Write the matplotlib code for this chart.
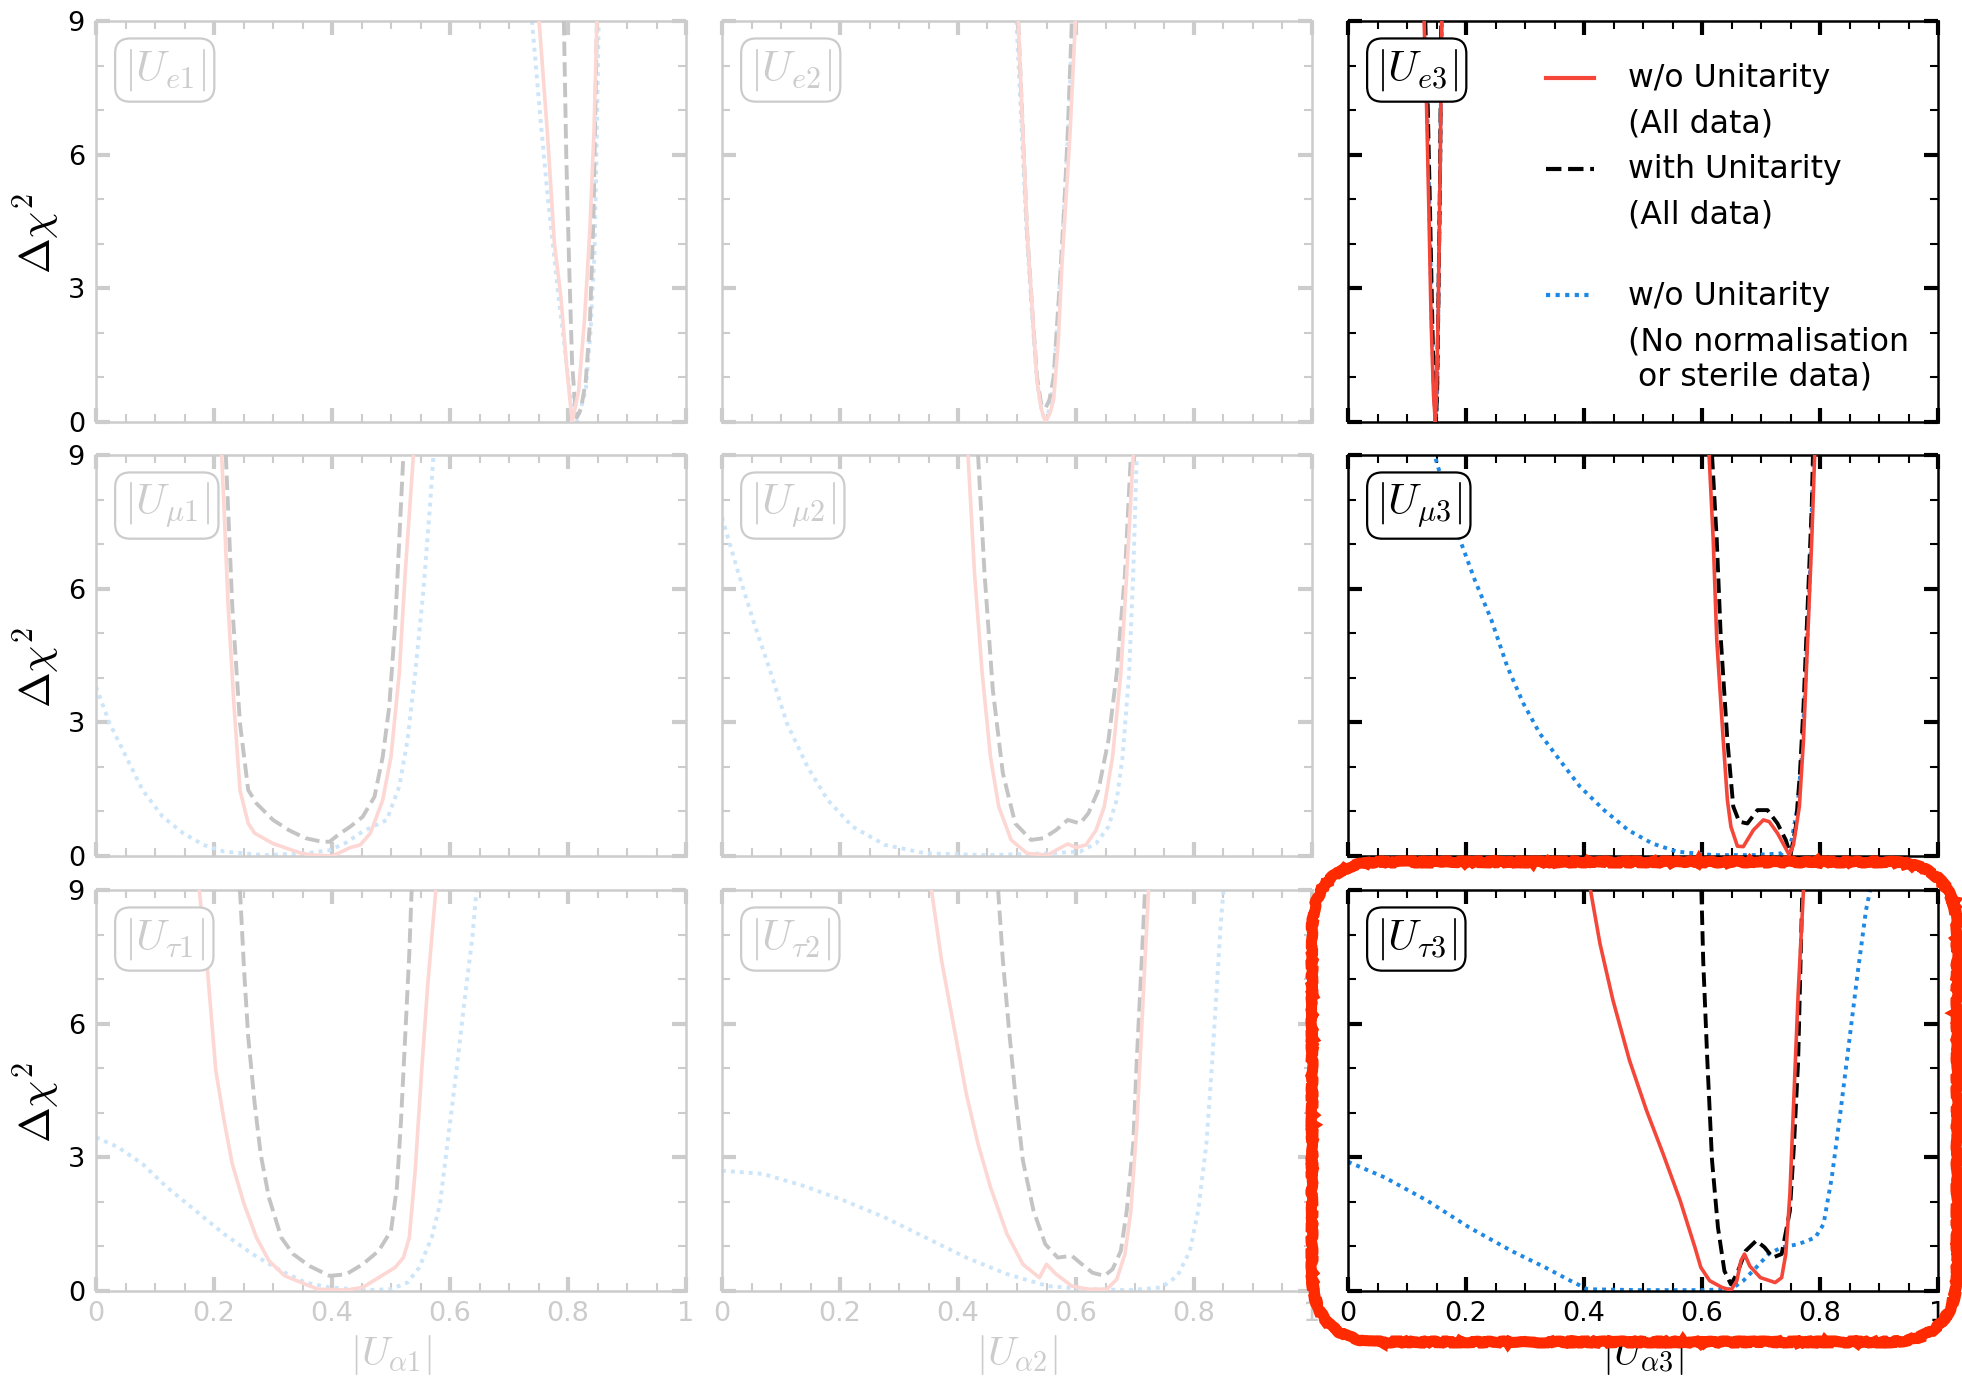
import matplotlib
matplotlib.use('Agg')
import matplotlib.pyplot as plt
from matplotlib.lines import Line2D
from matplotlib.patches import FancyBboxPatch
from matplotlib.ticker import MultipleLocator, FixedLocator, FixedFormatter

# ---------------- data ----------------
# row e
e1_red_x = [0.751, 0.765, 0.777, 0.788, 0.798, 0.807, 0.818, 0.828, 0.837, 0.844, 0.849]
e1_red_y = [9.0, 6.5, 4.0, 2.8, 1.2, 0.0, 0.7, 2.3, 4.3, 6.5, 9.0]
e1_dash_x = [0.793, 0.797, 0.802, 0.807, 0.812, 0.815, 0.822, 0.830, 0.837, 0.843, 0.849]
e1_dash_y = [9.0, 6.0, 3.5, 1.3, 0.4, 0.1, 0.3, 0.9, 2.2, 4.5, 9.0]
e1_blue_x = [0.739, 0.752, 0.766, 0.784, 0.803, 0.815, 0.830, 0.838, 0.845, 0.849, 0.852]
e1_blue_y = [9.0, 7.0, 5.0, 2.8, 0.7, 0.0, 0.7, 2.0, 3.8, 6.5, 9.0]

e2_red_x = [0.502, 0.510, 0.517, 0.527, 0.534, 0.541, 0.548, 0.556, 0.562, 0.570, 0.576, 0.584, 0.590, 0.599]
e2_red_y = [9.0, 6.5, 4.3, 2.3, 0.9, 0.3, 0.0, 0.2, 0.5, 1.8, 3.5, 5.2, 6.5, 9.0]
e2_dash_x = [0.502, 0.510, 0.517, 0.527, 0.534, 0.541, 0.548, 0.555, 0.562, 0.572, 0.580, 0.586, 0.593]
e2_dash_y = [9.0, 6.5, 4.3, 2.3, 1.0, 0.4, 0.3, 0.5, 1.0, 3.0, 4.8, 6.5, 9.0]
e2_blue_x = [0.499, 0.508, 0.516, 0.526, 0.534, 0.541, 0.548, 0.555, 0.562, 0.572, 0.580, 0.587, 0.594]
e2_blue_y = [9.0, 6.5, 4.3, 2.3, 0.9, 0.3, 0.0, 0.3, 0.9, 3.0, 4.9, 6.6, 9.0]

e3_red_x = [0.129, 0.133, 0.137, 0.141, 0.145, 0.148, 0.150, 0.153, 0.156, 0.159]
e3_red_y = [9.0, 7.2, 4.8, 2.2, 0.6, 0.0, 0.6, 2.5, 5.5, 9.0]
e3_dash_x = [0.131, 0.135, 0.139, 0.143, 0.146, 0.149, 0.151, 0.153, 0.156, 0.158]
e3_dash_y = [9.0, 7.2, 4.8, 2.2, 0.6, 0.0, 0.6, 2.5, 5.5, 9.0]
e3_blue_x = [0.130, 0.134, 0.138, 0.142, 0.146, 0.149, 0.151, 0.153, 0.156, 0.159]
e3_blue_y = [9.0, 7.2, 4.8, 2.2, 0.6, 0.0, 0.6, 2.5, 5.5, 9.0]

# row mu
mu1_red_x = [0.213, 0.218, 0.224, 0.234, 0.244, 0.258, 0.269, 0.300, 0.348, 0.369, 0.400,
             0.417, 0.431, 0.448, 0.465, 0.486, 0.500, 0.514, 0.524, 0.538]
mu1_red_y = [9.0, 7.5, 5.6, 3.35, 1.48, 0.73, 0.51, 0.28, 0.06, 0.02, 0.0,
             0.1, 0.19, 0.25, 0.51, 1.26, 2.23, 4.1, 6.34, 9.0]
mu1_dash_x = [0.220, 0.231, 0.244, 0.258, 0.272, 0.300, 0.327, 0.355, 0.383, 0.396,
              0.410, 0.431, 0.452, 0.472, 0.486, 0.497, 0.507, 0.514, 0.521]
mu1_dash_y = [9.0, 5.6, 2.98, 1.48, 1.18, 0.81, 0.58, 0.40, 0.32, 0.32,
              0.47, 0.66, 0.88, 1.33, 2.23, 3.35, 5.2, 7.1, 9.0]
mu1_blue_x = [0.0, 0.023, 0.051, 0.079, 0.113, 0.148, 0.182, 0.217, 0.286, 0.355, 0.396,
              0.424, 0.452, 0.493, 0.514, 0.528, 0.541, 0.555, 0.566, 0.572]
mu1_blue_y = [3.8, 2.98, 2.23, 1.48, 0.88, 0.51, 0.25, 0.10, 0.02, 0.06, 0.13,
              0.30, 0.55, 0.81, 1.56, 2.6, 4.1, 5.97, 7.84, 9.0]

mu2_red_x = [0.417, 0.428, 0.441, 0.455, 0.469, 0.490, 0.517, 0.552, 0.566, 0.586, 0.600,
             0.617, 0.634, 0.648, 0.662, 0.676, 0.686, 0.697]
mu2_red_y = [9.0, 6.34, 4.1, 2.23, 1.11, 0.36, 0.06, 0.02, 0.13, 0.27, 0.19,
             0.25, 0.58, 1.11, 2.23, 4.1, 6.34, 9.0]
mu2_dash_x = [0.434, 0.445, 0.459, 0.476, 0.497, 0.524, 0.545, 0.566, 0.586, 0.607,
              0.621, 0.638, 0.655, 0.669, 0.683, 0.693]
mu2_dash_y = [9.0, 6.34, 3.73, 1.86, 0.73, 0.36, 0.40, 0.58, 0.81, 0.73,
              0.96, 1.48, 2.6, 4.1, 6.34, 9.0]
mu2_blue_x = [0.0, 0.028, 0.055, 0.083, 0.110, 0.145, 0.179, 0.221, 0.276, 0.345, 0.448,
              0.552, 0.607, 0.634, 0.655, 0.669, 0.679, 0.690, 0.697, 0.703]
mu2_blue_y = [7.6, 6.34, 5.2, 4.1, 2.98, 2.0, 1.26, 0.66, 0.25, 0.06, 0.02,
              0.06, 0.10, 0.28, 0.66, 1.26, 2.23, 4.1, 6.34, 9.0]

mu3_red_x = [0.612, 0.619, 0.625, 0.636, 0.643, 0.649, 0.660, 0.670, 0.687, 0.704, 0.714,
             0.728, 0.742, 0.748, 0.755, 0.765, 0.772, 0.779, 0.786, 0.791]
mu3_red_y = [9.0, 7.1, 4.85, 2.6, 1.26, 0.66, 0.22, 0.21, 0.58, 0.81, 0.77,
             0.51, 0.17, 0.02, 0.25, 1.11, 2.6, 4.85, 7.1, 9.0]
mu3_dash_x = [0.617, 0.625, 0.632, 0.643, 0.653, 0.663, 0.677, 0.694, 0.711, 0.728,
              0.742, 0.750, 0.759, 0.766, 0.772, 0.779, 0.786, 0.788]
mu3_dash_y = [9.0, 7.1, 4.85, 2.6, 1.11, 0.77, 0.73, 1.03, 1.03, 0.73,
              0.36, 0.02, 0.66, 1.86, 3.35, 5.6, 7.84, 9.0]
mu3_blue_x = [0.140, 0.150, 0.188, 0.215, 0.243, 0.270, 0.297, 0.325, 0.359, 0.393, 0.434,
              0.475, 0.516, 0.557, 0.619, 0.687, 0.735, 0.752, 0.762, 0.769, 0.776, 0.783, 0.789]
mu3_blue_y = [9.3, 8.85, 7.16, 6.19, 5.3, 4.25, 3.43, 2.75, 2.15, 1.56, 1.03,
              0.58, 0.28, 0.10, 0.02, 0.02, 0.06, 0.36, 1.11, 2.23, 4.1, 6.34, 9.0]

# row tau
tau1_red_x = [0.175, 0.189, 0.203, 0.217, 0.231, 0.251, 0.272, 0.293, 0.320, 0.348, 0.376,
              0.424, 0.452, 0.479, 0.507, 0.521, 0.531, 0.541, 0.552, 0.562, 0.576]
tau1_red_y = [9.0, 7.2, 4.95, 3.83, 2.85, 1.95, 1.2, 0.68, 0.34, 0.19, 0.04,
              0.02, 0.08, 0.30, 0.53, 0.75, 1.2, 2.7, 4.95, 6.83, 9.0]
tau1_dash_x = [0.244, 0.251, 0.258, 0.269, 0.279, 0.293, 0.314, 0.334, 0.362, 0.396,
               0.424, 0.452, 0.479, 0.500, 0.510, 0.517, 0.524, 0.531, 0.535]
tau1_dash_y = [9.0, 7.2, 5.7, 4.2, 3.08, 2.1, 1.2, 0.83, 0.56, 0.34,
               0.375, 0.6, 0.9, 1.35, 2.33, 3.83, 5.7, 7.58, 9.0]
tau1_blue_x = [0.0, 0.037, 0.079, 0.120, 0.169, 0.217, 0.265, 0.314, 0.355, 0.396, 0.459,
               0.500, 0.528, 0.548, 0.569, 0.583, 0.597, 0.611, 0.624, 0.638, 0.645]
tau1_blue_y = [3.45, 3.23, 2.85, 2.33, 1.8, 1.28, 0.83, 0.45, 0.19, 0.08, 0.02,
               0.04, 0.19, 0.53, 1.2, 1.95, 3.45, 4.95, 6.45, 7.95, 9.0]

tau2_red_x = [0.355, 0.372, 0.393, 0.414, 0.434, 0.455, 0.483, 0.510, 0.538, 0.550, 0.566,
              0.593, 0.621, 0.652, 0.669, 0.683, 0.693, 0.703, 0.710, 0.717, 0.723]
tau2_red_y = [9.0, 7.43, 5.93, 4.43, 3.3, 2.33, 1.28, 0.6, 0.3, 0.6, 0.38,
              0.11, 0.04, 0.04, 0.26, 0.83, 1.8, 3.68, 5.55, 7.43, 9.0]
tau2_dash_x = [0.468, 0.476, 0.486, 0.497, 0.510, 0.528, 0.548, 0.569, 0.593, 0.610,
               0.628, 0.648, 0.662, 0.676, 0.686, 0.697, 0.703, 0.710, 0.717]
tau2_dash_y = [9.0, 7.43, 5.93, 4.43, 2.93, 1.8, 1.05, 0.75, 0.79, 0.6,
               0.41, 0.34, 0.49, 0.9, 1.8, 3.3, 5.18, 7.05, 9.0]
tau2_blue_x = [0.0, 0.069, 0.138, 0.207, 0.276, 0.345, 0.414, 0.483, 0.552, 0.621,
               0.690, 0.745, 0.772, 0.793, 0.807, 0.821, 0.831, 0.838, 0.845, 0.850]
tau2_blue_y = [2.7, 2.63, 2.36, 2.03, 1.65, 1.2, 0.75, 0.38, 0.11, 0.04,
               0.02, 0.08, 0.34, 0.9, 1.8, 3.3, 5.18, 6.68, 8.18, 9.0]

tau3_red_x = [0.411, 0.427, 0.449, 0.477, 0.506, 0.534, 0.563, 0.588, 0.598, 0.613, 0.634,
              0.649, 0.659, 0.666, 0.672, 0.681, 0.699, 0.724, 0.735, 0.742, 0.749,
              0.756, 0.763, 0.772]
tau3_red_y = [9.0, 7.8, 6.53, 5.18, 4.05, 3.08, 2.03, 0.98, 0.53, 0.23, 0.08,
              0.02, 0.23, 0.68, 0.83, 0.56, 0.30, 0.19, 0.30, 0.83, 2.18,
              4.43, 6.68, 9.0]
tau3_dash_x = [0.599, 0.602, 0.609, 0.617, 0.627, 0.638, 0.649, 0.659, 0.674, 0.692,
               0.706, 0.720, 0.735, 0.749, 0.756, 0.763, 0.770]
tau3_dash_y = [9.0, 7.43, 5.18, 2.93, 1.43, 0.45, 0.15, 0.38, 0.90, 1.13,
               0.98, 0.75, 0.83, 1.8, 3.3, 5.18, 9.0]
tau3_blue_x = [0.0, 0.062, 0.134, 0.205, 0.277, 0.334, 0.377, 0.406, 0.491, 0.599, 0.649,
               0.670, 0.692, 0.713, 0.735, 0.763, 0.792, 0.806, 0.820, 0.835, 0.849,
               0.863, 0.878, 0.885]
tau3_blue_y = [2.9, 2.55, 2.03, 1.43, 0.9, 0.53, 0.23, 0.04, 0.02, 0.02, 0.04,
               0.23, 0.53, 0.83, 0.98, 1.05, 1.2, 1.5, 2.55, 4.05, 5.55,
               7.05, 8.55, 9.0]

curves = [
    [(e1_red_x, e1_red_y, e1_dash_x, e1_dash_y, e1_blue_x, e1_blue_y),
     (e2_red_x, e2_red_y, e2_dash_x, e2_dash_y, e2_blue_x, e2_blue_y),
     (e3_red_x, e3_red_y, e3_dash_x, e3_dash_y, e3_blue_x, e3_blue_y)],
    [(mu1_red_x, mu1_red_y, mu1_dash_x, mu1_dash_y, mu1_blue_x, mu1_blue_y),
     (mu2_red_x, mu2_red_y, mu2_dash_x, mu2_dash_y, mu2_blue_x, mu2_blue_y),
     (mu3_red_x, mu3_red_y, mu3_dash_x, mu3_dash_y, mu3_blue_x, mu3_blue_y)],
    [(tau1_red_x, tau1_red_y, tau1_dash_x, tau1_dash_y, tau1_blue_x, tau1_blue_y),
     (tau2_red_x, tau2_red_y, tau2_dash_x, tau2_dash_y, tau2_blue_x, tau2_blue_y),
     (tau3_red_x, tau3_red_y, tau3_dash_x, tau3_dash_y, tau3_blue_x, tau3_blue_y)],
]

flavours = ['e', r'\mu', r'\tau']
x_ticks = [0, 0.2, 0.4, 0.6, 0.8, 1.0]
x_ticklabels = ['0', '0.2', '0.4', '0.6', '0.8', '1']
y_ticks = [0, 3, 6, 9]
y_ticklabels = ['0', '3', '6', '9']
legend_labels = ['w/o Unitarity', '(All data)', 'with Unitarity', '(All data)', '',
                 'w/o Unitarity', '(No normalisation\n or sterile data)']

# ---------------- style ----------------
RED, BLACK, BLUE = '#f4473a', 'black', '#1e88e5'
FADE_RED, FADE_GREY, FADE_BLUE = '#fdd7d3', '#c4c4c4', '#cde5f9'
FADE_AX = '#cccccc'
DOT = (0, (1, 1.3))

plt.rcParams['font.family'] = ['DejaVu Sans']

W, H = 1962, 1379
lefts = [96, 722, 1348]
tops = [21, 455, 890]
aw, ah = 590, 401

fig = plt.figure(figsize=(W / 100, H / 100), dpi=100)

for r in range(3):
    for c in range(3):
        ax = fig.add_axes([lefts[c] / W, 1 - (tops[r] + ah) / H, aw / W, ah / H])
        strong = (c == 2)
        axc = 'black' if strong else FADE_AX
        cr, cd, cb = (RED, BLACK, BLUE) if strong else (FADE_RED, FADE_GREY, FADE_BLUE)

        rx, ry, dx, dy, bx, by = curves[r][c]
        ax.plot(bx, by, color=cb, lw=2.8, ls=DOT, zorder=2)
        ax.plot(dx, dy, color=cd, lw=2.8, ls='--', zorder=3)
        ax.plot(rx, ry, color=cr, lw=2.6, ls='-', zorder=4)

        ax.set_xlim(0, 1)
        ax.set_ylim(0, 9)
        for s in ax.spines.values():
            s.set_color(axc)
            s.set_linewidth(1.8)

        ax.xaxis.set_major_locator(FixedLocator(x_ticks))
        ax.xaxis.set_minor_locator(MultipleLocator(0.05))
        ax.yaxis.set_major_locator(FixedLocator(y_ticks))
        ax.yaxis.set_minor_locator(MultipleLocator(1))
        ax.tick_params(which='both', direction='in', top=True, right=True, color=axc)
        ax.tick_params(which='major', length=10, width=3)
        ax.tick_params(which='minor', length=6, width=1.5)

        if r == 2:
            ax.xaxis.set_major_formatter(FixedFormatter(x_ticklabels))
            ax.tick_params(axis='x', labelsize=19.5, pad=7, labelcolor=axc)
            ax.set_xlabel(r'$|U_{\alpha %d}|$' % (c + 1), fontsize=29, color=axc,
                          math_fontfamily='cm', va='top')
            ax.xaxis.set_label_coords(0.5, -0.105)
        else:
            ax.set_xticklabels([])
        if c == 0:
            ax.yaxis.set_major_formatter(FixedFormatter(y_ticklabels))
            ax.tick_params(axis='y', labelsize=19.5, pad=8, labelcolor='black')
            ax.set_ylabel(r'$\Delta\chi^2$', fontsize=31, math_fontfamily='cm')
            ax.yaxis.set_label_coords(-0.058, 0.47)
        else:
            ax.set_yticklabels([])

        ax.text(0.047, 0.935, r'$|U_{%s%d}|$' % (flavours[r], c + 1),
                transform=ax.transAxes, ha='left', va='top', fontsize=31,
                color=('black' if strong else FADE_AX), math_fontfamily='cm', zorder=6,
                bbox=dict(boxstyle='round,pad=0.2,rounding_size=0.35', fc='white',
                          ec=('black' if strong else FADE_AX), lw=1.6))

        if r == 0 and c == 2:
            handles = [Line2D([], [], color=RED, lw=3),
                       Line2D([], [], ls='none'),
                       Line2D([], [], color=BLACK, lw=3, ls='--'),
                       Line2D([], [], ls='none'),
                       Line2D([], [], ls='none'),
                       Line2D([], [], color=BLUE, lw=3, ls=DOT),
                       Line2D([], [], ls='none')]
            leg = ax.legend(handles, legend_labels, loc='upper left',
                            bbox_to_anchor=(0.336, 0.896), frameon=False, fontsize=22.7,
                            handlelength=1.52, handleheight=0.3, handletextpad=1.07,
                            labelspacing=0.46, borderpad=0, borderaxespad=0)
            leg.get_texts()[4].set_fontsize(8.5)

# hand-drawn highlight round the last panel
hl = FancyBboxPatch((1312, 37), 645, 480, boxstyle='round,pad=0,rounding_size=70',
                    transform=None, fill=False, ec='#ff2a00', lw=8, zorder=20)
hl.set_sketch_params(scale=1.0, length=40, randomness=20)
fig.add_artist(hl)

fig.savefig('out.png', dpi=100)
